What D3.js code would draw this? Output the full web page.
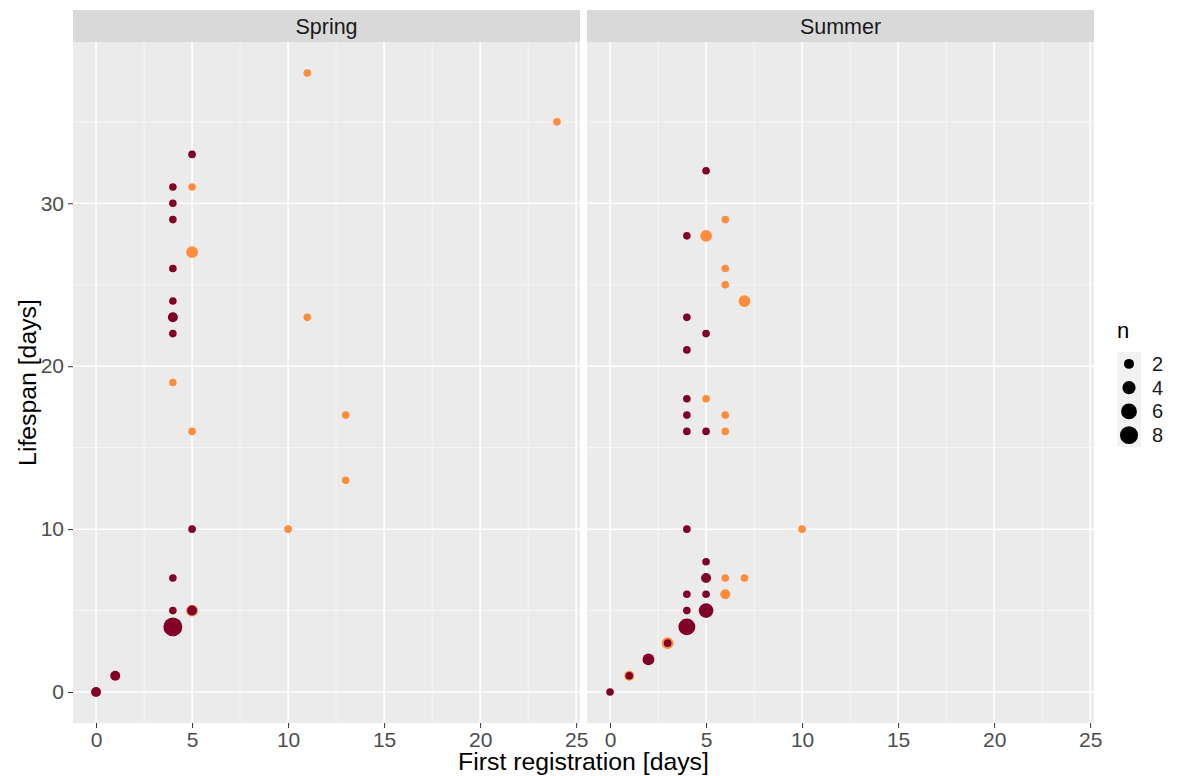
<!DOCTYPE html>
<html>
<head>
<meta charset="utf-8">
<script src="https://cdn.jsdelivr.net/npm/d3@7"></script>
<style>
  html, body { margin: 0; padding: 0; background: #ffffff; }
  svg text { font-family: "Liberation Sans", Arial, sans-serif; }
</style>
</head>
<body>
<svg id="chart" width="1178" height="776"></svg>
<script>
// ---------------- data ----------------
const facets = ["Spring", "Summer"];
const xTicks = [0, 5, 10, 15, 20, 25];
const xMinor = [2.5, 7.5, 12.5, 17.5, 22.5];
const yTicks = [0, 10, 20, 30];
const yMinor = [5, 15, 25, 35];
const legendBreaks = [2, 4, 6, 8];
// [first registration, lifespan, n]
const springMaroon = [[5,33,1],[4,31,1],[4,30,1],[4,29,1],[4,26,1],[4,24,1],[4,23,2],[4,22,1],[5,10,1],[4,7,1],[4,5,1],[5,5,2],[4,4,9],[1,1,2],[0,0,2]];
const springOrange = [[11,38,1],[24,35,1],[5,31,1],[5,27,3],[11,23,1],[4,19,1],[5,16,1],[13,17,1],[13,13,1],[10,10,1],[5,5,3]];
const summerMaroon = [[5,32,1],[4,28,1],[4,23,1],[5,22,1],[4,21,1],[4,18,1],[4,17,1],[4,16,1],[5,16,1],[4,10,1],[5,8,1],[5,7,2],[4,6,1],[5,6,1],[4,5,1],[5,5,5],[4,4,7],[3,3,1],[2,2,3],[1,1,1],[0,0,1]];
const summerOrange = [[6,29,1],[5,28,3],[6,26,1],[6,25,1],[7,24,3],[5,18,1],[6,17,1],[6,16,1],[10,10,1],[6,7,1],[7,7,1],[6,6,2],[3,3,3],[1,1,2]];
const colorMaroon = "#800026";
const colorOrange = "#FD8D3C";
const panelData = {
  Spring: [{pts: springOrange, color: colorOrange}, {pts: springMaroon, color: colorMaroon}],
  Summer: [{pts: summerOrange, color: colorOrange}, {pts: summerMaroon, color: colorMaroon}]
};

// ---------------- layout ----------------
const svg = d3.select("#chart");
const panelTop = 42, panelBottom = 723;
const panelLefts = {Spring: 73, Summer: 587};
const panelW = 507;
const stripTop = 10;
const tickColor = "#333333", labelColor = "#4d4d4d";

const y = d3.scaleLinear().domain([-1.9, 39.9]).range([panelBottom, panelTop]);
const sizeScale = d3.scaleSqrt().domain([0, 9]).range([0, 17.07]);
const radius = n => (sizeScale(n) + 1.9) / 2;

facets.forEach((f, i) => {
  const left = panelLefts[f];
  const x = d3.scaleLinear().domain([-1.2, 25.2]).range([left, left + panelW]);
  const g = svg.append("g");
  // strip
  g.append("rect").attr("x", left).attr("y", stripTop).attr("width", panelW)
    .attr("height", panelTop - stripTop).attr("fill", "#d9d9d9");
  g.append("text").attr("x", left + panelW / 2).attr("y", (stripTop + panelTop) / 2)
    .attr("dy", "0.35em").attr("text-anchor", "middle").attr("font-size", 21.5)
    .attr("fill", "#1a1a1a").text(f);
  // panel background
  g.append("rect").attr("x", left).attr("y", panelTop).attr("width", panelW)
    .attr("height", panelBottom - panelTop).attr("fill", "#ebebeb");
  // minor grid
  g.selectAll(".xminor").data(xMinor).enter().append("line")
    .attr("x1", d => x(d)).attr("x2", d => x(d)).attr("y1", panelTop).attr("y2", panelBottom)
    .attr("stroke", "#f7f7f7").attr("stroke-width", 0.8);
  g.selectAll(".yminor").data(yMinor).enter().append("line")
    .attr("y1", d => y(d)).attr("y2", d => y(d)).attr("x1", left).attr("x2", left + panelW)
    .attr("stroke", "#f7f7f7").attr("stroke-width", 0.8);
  // major grid
  g.selectAll(".xmajor").data(xTicks).enter().append("line")
    .attr("x1", d => x(d)).attr("x2", d => x(d)).attr("y1", panelTop).attr("y2", panelBottom)
    .attr("stroke", "#ffffff").attr("stroke-width", 1.5);
  g.selectAll(".ymajor").data(yTicks).enter().append("line")
    .attr("y1", d => y(d)).attr("y2", d => y(d)).attr("x1", left).attr("x2", left + panelW)
    .attr("stroke", "#ffffff").attr("stroke-width", 1.5);
  // points
  panelData[f].forEach(s => {
    g.append("g").selectAll("circle").data(s.pts).enter().append("circle")
      .attr("cx", d => x(d[0])).attr("cy", d => y(d[1])).attr("r", d => radius(d[2]))
      .attr("fill", s.color);
  });
  // x axis
  const xAxis = d3.axisBottom(x).tickValues(xTicks).tickSize(5).tickPadding(4).tickFormat(d3.format("d"));
  const xa = svg.append("g").attr("transform", `translate(0,${panelBottom})`).call(xAxis);
  xa.select(".domain").remove();
  xa.selectAll(".tick line").attr("stroke", tickColor).attr("stroke-width", 1);
  xa.selectAll(".tick text").attr("font-size", 21).attr("fill", labelColor)
    .attr("font-family", "Liberation Sans, Arial, sans-serif");
  if (i === 0) {
    const yAxis = d3.axisLeft(y).tickValues(yTicks).tickSize(5).tickPadding(4).tickFormat(d3.format("d"));
    const ya = svg.append("g").attr("transform", `translate(${left},0)`).call(yAxis);
    ya.select(".domain").remove();
    ya.selectAll(".tick line").attr("stroke", tickColor).attr("stroke-width", 1);
    ya.selectAll(".tick text").attr("font-size", 21).attr("fill", labelColor)
      .attr("font-family", "Liberation Sans, Arial, sans-serif");
  }
});

// axis titles
svg.append("text").attr("x", (73 + 587 + panelW) / 2).attr("y", 770)
  .attr("text-anchor", "middle").attr("font-size", 24.8).attr("fill", "#000")
  .text("First registration [days]");
svg.append("text").attr("transform", `translate(36,${(panelTop + panelBottom) / 2}) rotate(-90)`)
  .attr("text-anchor", "middle").attr("font-size", 24.8).attr("fill", "#000")
  .text("Lifespan [days]");

// legend
const lg = svg.append("g");
lg.append("text").attr("x", 1117).attr("y", 338).attr("font-size", 22).attr("fill", "#000").text("n");
const keyTop = 352, keyH = 23.75, keyX = 1117, keyW = 24;
lg.append("rect").attr("x", keyX).attr("y", keyTop).attr("width", keyW)
  .attr("height", keyH * legendBreaks.length).attr("fill", "#f2f2f2");
legendBreaks.forEach((b, k) => {
  const cy = keyTop + keyH * k + keyH / 2;
  lg.append("circle").attr("cx", keyX + keyW / 2).attr("cy", cy).attr("r", radius(b)).attr("fill", "#000");
  lg.append("text").attr("x", 1152).attr("y", cy).attr("dy", "0.35em")
    .attr("font-size", 20).attr("fill", "#1a1a1a").text(b);
});
</script>
</body>
</html>
